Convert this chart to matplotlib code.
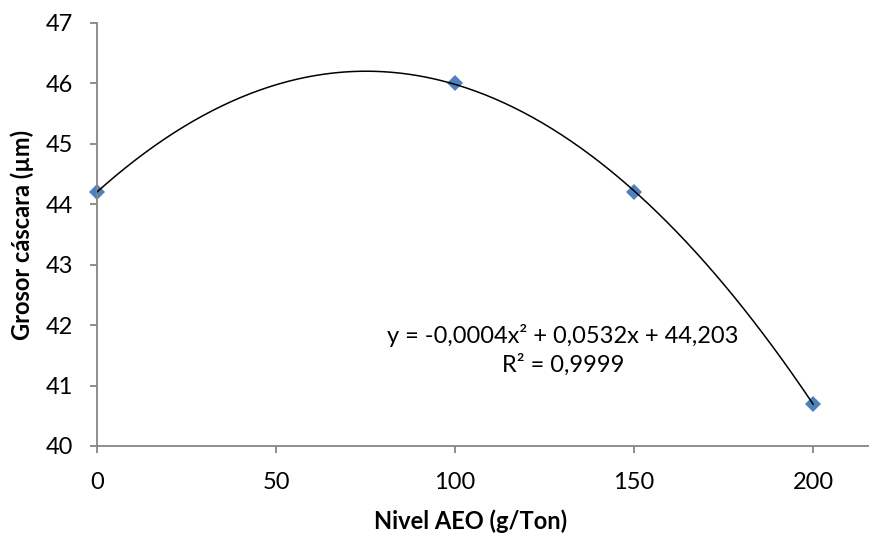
import numpy as np
import matplotlib
matplotlib.use("Agg")
import matplotlib.pyplot as plt

# Eggshell thickness measured at each AEO inclusion level
nivel_aeo = [0, 100, 150, 200]
grosor = [44.2, 46.0, 44.2, 40.7]

x_ticks = [0, 50, 100, 150, 200]
y_ticks = [40, 41, 42, 43, 44, 45, 46, 47]

ecuacion = "y = -0,0004x² + 0,0532x + 44,203"
r2_texto = "R² = 0,9999"

plt.rcParams["font.family"] = ["Lato", "DejaVu Sans"]

fig = plt.figure(figsize=(8.69, 5.34), dpi=100)
ax = fig.add_axes([0.1116, 0.1648, 0.8884, 0.7922])

# second-order polynomial trendline fitted to the points
coef = np.polyfit(nivel_aeo, grosor, 2)
xs = np.linspace(min(nivel_aeo), max(nivel_aeo), 300)
ax.plot(xs, np.polyval(coef, xs), color="black", lw=1.1, zorder=3)

ax.plot(nivel_aeo, grosor, linestyle="none", marker="D", markersize=8.5,
        color="#4F81BD", markeredgewidth=0, zorder=2, clip_on=False)

ax.set_xlim(0, 215.6)
ax.set_ylim(40, 47)
ax.set_xticks(x_ticks)
ax.set_yticks(y_ticks)

for side in ("top", "right"):
    ax.spines[side].set_visible(False)
for side in ("left", "bottom"):
    ax.spines[side].set_color("#868686")
    ax.spines[side].set_linewidth(1.3)
ax.tick_params(axis="both", colors="#868686", length=5, width=1.3,
               labelcolor="black", labelsize=17)
ax.tick_params(axis="x", pad=14)
ax.tick_params(axis="y", pad=12)

ax.set_xlabel("Nivel AEO (g/Ton)", fontsize=17, fontweight="bold", va="center")
ax.set_ylabel("Grosor cáscara (µm)", fontsize=17, fontweight="bold", va="center")
ax.xaxis.set_label_coords(0.484, -0.177)
ax.yaxis.set_label_coords(-0.097, 0.5)

ax.text(130.2, 41.59, ecuacion + "\n" + r2_texto, ha="center", va="center",
        fontsize=17, linespacing=1.35)

fig.savefig("out.png", dpi=100)
